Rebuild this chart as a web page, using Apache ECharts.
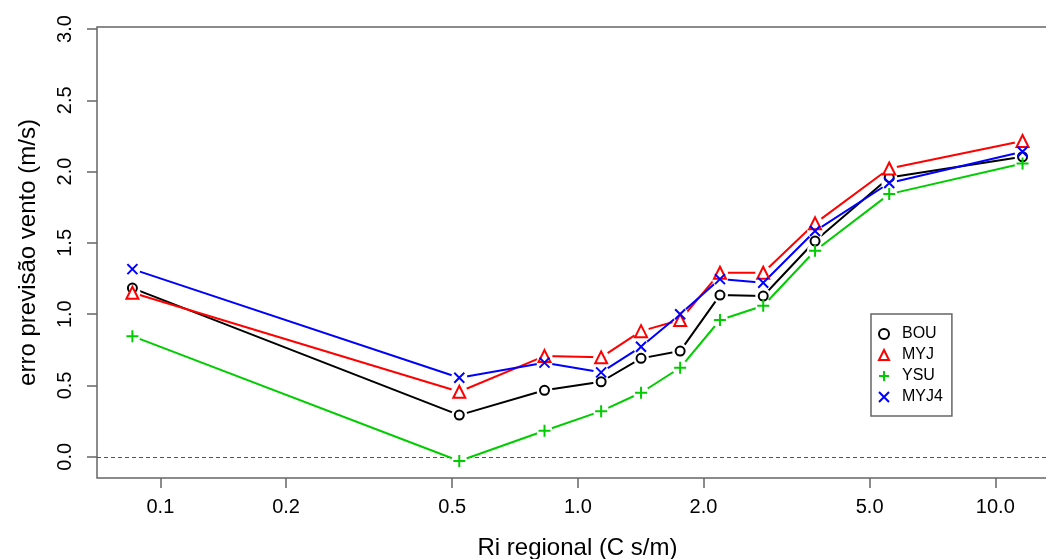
<!DOCTYPE html>
<html>
<head>
<meta charset="utf-8">
<script src="https://cdn.jsdelivr.net/npm/echarts@6/dist/echarts.min.js"></script>
<style>
  html, body { margin: 0; padding: 0; background: #fff; }
  #chart { width: 1046px; height: 559px; }
</style>
</head>
<body>
<div id="chart"></div>
<script>
// Ri regional (C s/m), one value per class
const riValues = [0.0857, 0.52, 0.832, 1.137, 1.417, 1.758, 2.19, 2.78, 3.70, 5.57, 11.62];

// wind forecast error (m/s) per PBL scheme
const bouError = [1.183, 0.292, 0.466, 0.526, 0.690, 0.741, 1.134, 1.127, 1.513, 1.959, 2.104];
const myjError = [1.150, 0.456, 0.706, 0.697, 0.881, 0.959, 1.290, 1.290, 1.637, 2.022, 2.214];
const ysuError = [0.846, -0.030, 0.182, 0.320, 0.449, 0.624, 0.959, 1.059, 1.445, 1.842, 2.057];
const myj4Error = [1.316, 0.554, 0.660, 0.592, 0.771, 0.999, 1.246, 1.220, 1.583, 1.920, 2.139];

const xTicks = [0.1, 0.2, 0.5, 1, 2, 5, 10];
const yTicks = [0, 0.5, 1, 1.5, 2, 2.5, 3];

const FONT = "Liberation Sans, Arial, Helvetica, sans-serif";
const AXIS_GRAY = "#666";

const PLUS_PATH = "path://M5,0L5,10M0,5L10,5";
const CROSS_PATH = "path://M0,0L10,10M10,0L0,10";

const schemes = [
  { name: "BOU", values: bouError, color: "#000000", symbol: "emptyCircle", size: 9 },
  { name: "MYJ", values: myjError, color: "#ff0000", symbol: "emptyTriangle", size: 12 },
  { name: "YSU", values: ysuError, color: "#00cd00", symbol: PLUS_PATH, size: 12 },
  { name: "MYJ4", values: myj4Error, color: "#0000ff", symbol: CROSS_PATH, size: 10 },
];

function toPairs(values) {
  return riValues.map((x, i) => [x, values[i]]);
}

// R type="b": each line stops short of its points. Every scheme gets its
// line and a white halo under its points; all point symbols sit on top.
const series = [];
schemes.forEach((s, k) => {
  const base = 2 + k * 2;
  series.push({
    name: s.name,
    type: "line",
    data: toPairs(s.values),
    symbol: "none",
    lineStyle: { color: s.color, width: 2 },
    itemStyle: { color: s.color, borderColor: s.color, borderWidth: 2 },
    emphasis: { disabled: true },
    silent: true,
    z: base,
  });
  series.push({
    name: s.name + " halo",
    type: "scatter",
    data: toPairs(s.values),
    symbol: "circle",
    symbolSize: 16,
    itemStyle: { color: "#ffffff", opacity: 1 },
    emphasis: { disabled: true },
    silent: true,
    z: base + 1,
  });
});
schemes.forEach((s) => {
  series.push({
    name: s.name,
    type: "scatter",
    data: toPairs(s.values),
    symbol: s.symbol,
    symbolSize: s.size,
    itemStyle: { color: s.color, borderColor: s.color, borderWidth: 2, opacity: 1 },
    emphasis: { disabled: true },
    silent: true,
    z: 20,
  });
});

// dashed reference line at zero, on top of everything
series[series.length - 1].markLine = {
  silent: true,
  symbol: "none",
  label: { show: false },
  lineStyle: { color: "#555", width: 1, type: [4, 3] },
  data: [{ yAxis: 0 }],
};

const option = {
  animation: false,
  backgroundColor: "#fff",
  textStyle: { fontFamily: FONT },
  grid: {
    left: 97,
    top: 27,
    right: -12,
    bottom: 81,
    outerBoundsMode: "none",
    containLabel: false,
    show: true,
    borderColor: AXIS_GRAY,
    borderWidth: 1.5,
    backgroundColor: "transparent",
  },
  legend: {
    orient: "vertical",
    left: 871,
    top: 314,
    padding: [12, 9, 11, 7],
    itemWidth: 10,
    itemHeight: 10,
    itemGap: 5,
    borderColor: AXIS_GRAY,
    borderWidth: 1.5,
    backgroundColor: "#fff",
    selectedMode: false,
    z: 30,
    textStyle: { fontFamily: FONT, fontSize: 16, color: "#000", padding: [0, 0, 0, 8] },
    data: schemes.map((s) => ({ name: s.name, icon: s.symbol })),
  },
  xAxis: {
    type: "log",
    logBase: 10,
    min: 0.0705,
    max: 14.13,
    name: "Ri regional (C s/m)",
    nameLocation: "middle",
    nameGap: 58,
    nameTextStyle: { fontFamily: FONT, fontSize: 24, color: "#000" },
    axisLine: { show: false, onZero: false },
    axisTick: {
      show: true,
      inside: false,
      length: 10,
      customValues: xTicks,
      lineStyle: { color: AXIS_GRAY, width: 1.5 },
    },
    axisLabel: {
      customValues: xTicks,
      margin: 19,
      fontFamily: FONT,
      fontSize: 20,
      color: "#000",
      formatter: (v) => Number(v).toFixed(1),
    },
    splitLine: { show: false },
    minorTick: { show: false },
  },
  yAxis: {
    type: "value",
    min: -0.149,
    max: 3.014,
    name: "erro previsão vento (m/s)",
    nameLocation: "middle",
    nameRotate: 90,
    nameGap: 57,
    nameTextStyle: { fontFamily: FONT, fontSize: 24, color: "#000" },
    axisLine: { show: false, onZero: false },
    axisTick: {
      show: true,
      inside: false,
      length: 10,
      customValues: yTicks,
      lineStyle: { color: AXIS_GRAY, width: 1.5 },
    },
    axisLabel: {
      customValues: yTicks,
      rotate: 90,
      margin: 22,
      fontFamily: FONT,
      fontSize: 20,
      color: "#000",
      formatter: (v) => Number(v).toFixed(1),
    },
    splitLine: { show: false },
  },
  series: series,
};

const chart = echarts.init(document.getElementById("chart"));
chart.setOption(option);
</script>
</body>
</html>
